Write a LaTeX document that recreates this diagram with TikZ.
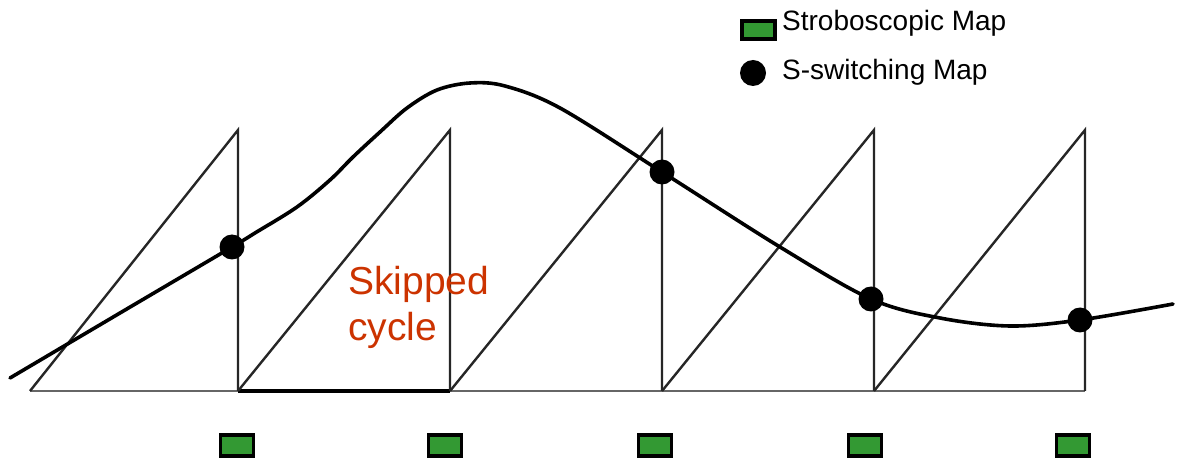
\documentclass[tikz,border=0pt]{standalone}
\usepackage{fontspec}
\setmainfont{Liberation Sans}
\definecolor{mapgreen}{HTML}{339933}
\definecolor{skipred}{HTML}{CC3300}
\begin{document}
\begin{tikzpicture}[x=1pt,y=-1pt,
  saw/.style={line width=2.4pt, black!85, line join=miter},
  basel/.style={line width=2.2pt, black!60},
  skipbase/.style={line width=3.4pt, black},
  curve/.style={line width=3.6pt, black, line cap=round},
  sdot/.style={circle, fill=black, inner sep=0pt, minimum size=25pt},
  strobe/.style={draw=black, line width=3.6pt, fill=mapgreen, inner sep=0pt, minimum width=33pt, minimum height=21pt},
  lbl/.style={font=\fontsize{28}{32}\selectfont, anchor=base west, inner sep=0pt}]
\useasboundingbox[fill=white] (0,0) rectangle (1179,462);
% sawtooth coordinates
\coordinate (b0) at (30,391);
\coordinate (b1) at (238,391);
\coordinate (b2) at (450,391);
\coordinate (b3) at (662,391);
\coordinate (b4) at (874,391);
\coordinate (b5) at (1085,391);
\coordinate (t1) at (238,130);
\coordinate (t2) at (450,130);
\coordinate (t3) at (662,130);
\coordinate (t4) at (874,130);
\coordinate (t5) at (1085,130);
\draw[basel] (b0) -- (b5);
\draw[skipbase] (b1) -- (b2);
\draw[saw] (b0) -- (t1) -- (b1);
\draw[saw] (b1) -- (t2) -- (b2);
\draw[saw] (b2) -- (t3) -- (b3);
\draw[saw] (b3) -- (t4) -- (b4);
\draw[saw] (b4) -- (t5) -- (b5);
% curve
\draw[curve] plot[smooth, tension=0.55] coordinates {(10,378) (120,313) (232,247) (255,233) (297,207) (330,180) (353,157) (380,132) (407,108) (437,90) (470,83) (505,86) (560,108) (662,172) (780,247) (871,299) (940,318) (1010,326) (1080,320) (1173,304)};
% switching points
\node[sdot] (d1) at (232,247) {};
\node[sdot] (d2) at (662,172) {};
\node[sdot] (d3) at (871,299) {};
\node[sdot] (d4) at (1080,320) {};
% stroboscopic points
\node[strobe] (s1) at (237,445.5) {};
\node[strobe] (s2) at (445,445.5) {};
\node[strobe] (s3) at (655,445.5) {};
\node[strobe] (s4) at (865,445.5) {};
\node[strobe] (s5) at (1073,445.5) {};
% label
\node[anchor=north west, align=left, inner sep=0pt, text=skipred, font=\fontsize{39}{46}\selectfont] (skip) at (348,266) {Skipped\\cycle};
% legend
\node[strobe, minimum height=18pt] (ls) at (758.5,30) {};
\node[lbl] (lst) at (782,31) {Stroboscopic Map};
\node[sdot, minimum size=26pt] (ld) at (753,73) {};
\node[lbl] (ldt) at (782,80) {S-switching Map};
\end{tikzpicture}
\end{document}
